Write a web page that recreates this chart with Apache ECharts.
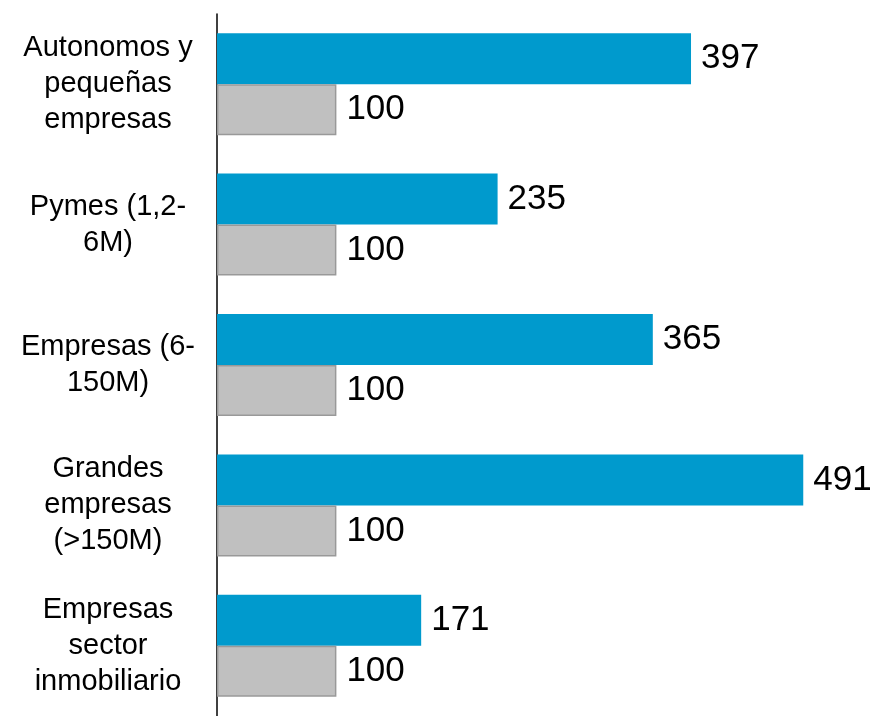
<!DOCTYPE html>
<html>
<head>
<meta charset="utf-8">
<script src="https://cdn.jsdelivr.net/npm/echarts@6/dist/echarts.min.js"></script>
<style>
  html, body { margin: 0; padding: 0; background: #fff; }
  #chart { width: 872px; height: 716px; }
</style>
</head>
<body>
<div id="chart"></div>
<script>
const categories = [
  'Autonomos y\npequeñas\nempresas',
  'Pymes (1,2-\n6M)',
  'Empresas (6-\n150M)',
  'Grandes\nempresas\n(>150M)',
  'Empresas\nsector\ninmobiliario'
]
const blueValues = [397, 235, 365, 491, 171]
const greyValues = [100, 100, 100, 100, 100]

const labelStyle = {
  show: true,
  position: 'right',
  distance: 10,
  fontFamily: 'Liberation Sans, Arial, sans-serif',
  fontSize: 35,
  color: '#000'
}

let chart = echarts.init(document.getElementById('chart'))
chart.setOption({
  animation: false,
  grid: {
    left: 217,
    right: 58,
    top: 14,
    bottom: 0
  },
  xAxis: {
    type: 'value',
    min: 0,
    max: 500,
    show: false
  },
  yAxis: {
    type: 'category',
    inverse: true,
    data: categories,
    axisLine: { show: true, lineStyle: { color: '#000', width: 1.5 } },
    axisTick: { show: false },
    axisLabel: {
      align: 'center',
      margin: 109,
      fontFamily: 'Liberation Sans, Arial, sans-serif',
      fontSize: 29,
      lineHeight: 36,
      color: '#000'
    }
  },
  series: [
    {
      type: 'bar',
      data: blueValues,
      barWidth: 51,
      barGap: '0%',
      itemStyle: { color: '#009ACD' },
      label: labelStyle
    },
    {
      type: 'bar',
      data: greyValues,
      barWidth: 51,
      barGap: '0%',
      itemStyle: { color: '#C0C0C0', borderColor: '#999', borderWidth: 1.5 },
      label: labelStyle
    }
  ]
})
</script>
</body>
</html>
